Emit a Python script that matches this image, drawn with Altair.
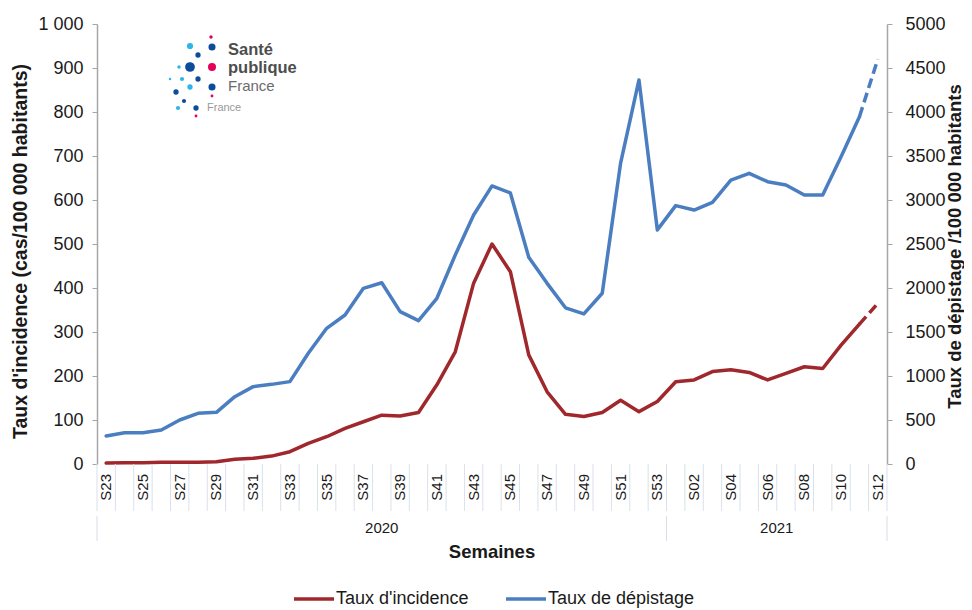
import altair as alt
import pandas as pd

# ---------------- data ----------------
weeks = ["S23", "S24", "S25", "S26", "S27", "S28", "S29", "S30", "S31", "S32",
         "S33", "S34", "S35", "S36", "S37", "S38", "S39", "S40", "S41", "S42",
         "S43", "S44", "S45", "S46", "S47", "S48", "S49", "S50", "S51", "S52",
         "S53", "S01", "S02", "S03", "S04", "S05", "S06", "S07", "S08", "S09",
         "S10", "S11", "S12"]
incidence = [2, 3, 3, 4, 4, 4, 5, 11, 13, 18,
             28, 47, 62, 81, 96, 111, 109, 117, 180, 255,
             411, 500, 437, 248, 164, 113, 108, 117, 145, 119,
             142, 187, 191, 210, 214, 208, 191, 206, 221, 217,
             270, 318, 365]
depistage = [318, 356, 356, 386, 500, 576, 587, 765, 879, 905,
             936, 1258, 1542, 1693, 1996, 2060, 1731, 1629, 1883, 2375,
             2830, 3160, 3080, 2350, 2053, 1775, 1705, 1940, 3420, 4364,
             2660, 2936, 2886, 2973, 3227, 3303, 3208, 3170, 3057, 3057,
             3492, 3947, 4600]
year_labels = ["2020", "2021"]
year_week_count = [31, 12]
series_names = ["Taux d'incidence", "Taux de dépistage"]
series_colors = ["#A0282C", "#4A7EC0"]
left_ticks = list(range(0, 1001, 100))
right_ticks = list(range(0, 5001, 500))

# ---------------- tables ----------------
n = len(weeks)
rows = []
for i, w in enumerate(weeks):
    rows.append({"idx": i, "week": w, "series": series_names[0], "value": incidence[i]})
    rows.append({"idx": i, "week": w, "series": series_names[1], "value": depistage[i]})
df = pd.DataFrame(rows)

label_df = pd.DataFrame({"idx": list(range(0, n, 2)), "week": weeks[::2]})
bounds = pd.DataFrame({"b": [i - 0.5 for i in range(n + 1)]})
ystarts, yends, acc = [], [], -0.5
for c in year_week_count:
    ystarts.append(acc)
    acc += c
    yends.append(acc)
years_df = pd.DataFrame({"year": year_labels, "start": ystarts, "end": yends})
years_df["mid"] = (years_df["start"] + years_df["end"]) / 2
year_bounds = pd.DataFrame({"b": sorted(set(ystarts + yends))})

# ---------------- style ----------------
W, H = 790, 440
FONT = "Liberation Sans"
TXT = "#1a1a1a"
AXC = "#a6a6a6"

xscale = alt.Scale(domain=[-0.5, n - 0.5], nice=False, zero=False)
color_scale = alt.Scale(domain=series_names, range=series_colors)

x_axis = alt.Axis(labels=False, ticks=False, domainColor="#c9d5e3", domainWidth=1.5,
                  grid=False, title=None)

left_axis = alt.Axis(values=left_ticks, orient="left",
                     labelExpr="replace(format(datum.value, ','), ',', ' ')",
                     labelFontSize=18, labelFont=FONT, labelColor=TXT,
                     tickSize=5, tickColor=AXC, domainColor=AXC, domainWidth=1.5,
                     labelPadding=9, grid=False,
                     title="Taux d'incidence (cas/100 000 habitants)",
                     titleFont=FONT, titleFontSize=19.5, titleFontWeight="bold",
                     titleColor=TXT, titleX=-77, titleY=227, titleAngle=270,
                     titleAlign="center", titleBaseline="middle")

right_axis = alt.Axis(values=right_ticks, orient="right", format="d",
                      labelFontSize=18, labelFont=FONT, labelColor=TXT,
                      tickSize=5, tickColor=AXC, domainColor=AXC, domainWidth=1.5,
                      labelPadding=13, grid=False,
                      title="Taux de dépistage /100 000 habitants",
                      titleFont=FONT, titleFontSize=18.5, titleFontWeight="bold",
                      titleColor=TXT, titleX=67, titleY=222, titleAngle=270,
                      titleAlign="center", titleBaseline="middle")

legend = alt.Legend(title=None, orient="none", legendX=195, legendY=553,
                    direction="horizontal", symbolType="stroke", symbolSize=1600,
                    symbolStrokeWidth=3.5, labelFontSize=18, labelFont=FONT,
                    labelColor=TXT, labelOffset=0, columnPadding=30)

solid_cut = n - 2


def series_layer(name, color, axis, domain):
    base = alt.Chart(df).transform_filter(alt.datum.series == name)
    y = alt.Y("value:Q", scale=alt.Scale(domain=domain, nice=False, zero=True), axis=axis)
    x = alt.X("idx:Q", scale=xscale, axis=x_axis)
    solid = base.transform_filter(alt.datum.idx <= solid_cut).mark_line(
        strokeWidth=3.5, strokeJoin="round", strokeCap="round").encode(
        x=x, y=y, color=alt.Color("series:N", scale=color_scale, legend=legend))
    dashed = base.transform_filter(alt.datum.idx >= solid_cut).mark_line(
        strokeWidth=3.5, strokeDash=[10, 5], color=color).encode(x=x, y=y)
    return alt.layer(solid, dashed)


inc_layer = series_layer(series_names[0], series_colors[0], left_axis, [0, 1000])
dep_layer = series_layer(series_names[1], series_colors[1], right_axis, [0, 5000])
lines = alt.layer(inc_layer, dep_layer).resolve_scale(y="independent")

# week labels, rotated, under the axis
week_text = alt.Chart(label_df).mark_text(
    font=FONT, fontSize=15, color=TXT, angle=270, align="right",
    baseline="middle").encode(
    x=alt.X("idx:Q", scale=xscale, axis=None), y=alt.value(H + 10), text="week:N")

# category separators under the axis
seps = alt.Chart(bounds).mark_rule(color="#d9e1ea", strokeWidth=1).encode(
    x=alt.X("b:Q", scale=xscale, axis=None),
    y=alt.value(H), y2=alt.value(H + 47))
year_seps = alt.Chart(year_bounds).mark_rule(color="#d6dee8", strokeWidth=1).encode(
    x=alt.X("b:Q", scale=xscale, axis=None),
    y=alt.value(H + 52), y2=alt.value(H + 77))
year_text = alt.Chart(years_df).mark_text(font=FONT, fontSize=15, color=TXT,
                                          baseline="middle").encode(
    x=alt.X("mid:Q", scale=xscale, axis=None), y=alt.value(H + 64), text="year:N")
x_title = alt.Chart(years_df.head(1)).mark_text(
    font=FONT, fontSize=18.5, fontWeight="bold", color=TXT, baseline="middle",
    text="Semaines").encode(x=alt.value(W / 2), y=alt.value(H + 88))

# logo (decoration)
DB, LB, PK = "#0B4D9B", "#2CB5E8", "#E5005A"
logo_dots = [(114, 13, 12, PK), (93, 22, 38, LB), (115, 23, 50, DB), (101, 31, 28, DB),
             (93, 43, 95, DB), (115, 43, 64, PK), (82, 43, 12, LB), (101, 55, 28, DB),
             (93, 63, 28, LB), (115, 63, 50, DB), (79, 68, 28, DB), (87, 77, 18, DB),
             (81, 84, 18, LB), (99, 84, 28, DB), (99, 92, 8, PK), (115, 72, 8, PK),
             (73, 55, 6, LB), (85, 55, 18, LB)]
one = pd.DataFrame({"k": [0]})
logo_layers = []
for (px, py, s, c) in logo_dots:
    logo_layers.append(alt.Chart(one).mark_circle(opacity=1, color=c).encode(
        x=alt.value(px), y=alt.value(py), size=alt.value(s)))
for (txt, px, py, fs, fw, col) in [("Santé", 131, 26, 16.5, "bold", "#4d4d4d"),
                                    ("publique", 131, 44, 16.5, "bold", "#4d4d4d"),
                                    ("France", 131, 62, 15, "normal", "#6b6b6b"),
                                    ("France", 110, 84, 11, "normal", "#9a9a9a")]:
    logo_layers.append(alt.Chart(one).mark_text(
        text=txt, font=FONT, fontSize=fs, fontWeight=fw, color=col, align="left",
        baseline="middle").encode(x=alt.value(px), y=alt.value(py)))

chart = alt.layer(lines, week_text, seps, year_seps, year_text, x_title,
                  *logo_layers).properties(
    width=W, height=H,
    autosize=alt.AutoSizeParams(type="none"),
    padding={"left": 89, "top": 16, "right": 77, "bottom": 145},
    background="white",
).configure_view(stroke=None)

chart.save("out.html", embed_options={"renderer": "svg", "actions": False})
